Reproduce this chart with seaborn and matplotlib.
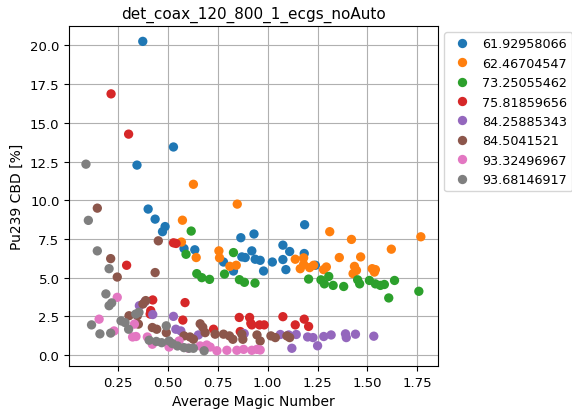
import pandas as pd
import seaborn as sns
import matplotlib
matplotlib.use("Agg")
import matplotlib.pyplot as plt

# legend labels (hue groups)
labels = ["61.92958066", "62.46704547", "73.25055462", "75.81859656",
          "84.25885343", "84.5041521", "93.32496967", "93.68146917"]

# (average magic number, Pu239 CBD [%]) per group
g0 = [(0.373, 20.26), (0.527, 13.44), (0.344, 12.27), (0.400, 9.43), (0.435, 8.78),
      (0.485, 8.30), (0.472, 7.97), (0.580, 6.88), (0.634, 6.80), (0.778, 6.01),
      (0.828, 5.43), (0.865, 7.58), (0.931, 7.82), (0.920, 6.73), (0.870, 6.34),
      (0.887, 6.30), (0.937, 6.19), (0.962, 6.12), (0.979, 5.43), (1.023, 6.01),
      (1.076, 7.10), (1.110, 6.69), (1.076, 6.17), (1.091, 5.52), (1.183, 6.56),
      (1.185, 8.42), (1.239, 5.80)]
g1 = [(0.627, 11.03), (0.847, 9.75), (0.572, 8.71), (0.567, 7.30), (0.641, 6.30),
      (0.755, 6.73), (0.758, 6.28), (0.810, 5.73), (0.842, 5.80), (1.138, 6.19),
      (1.180, 6.28), (1.180, 5.86), (1.163, 5.58), (1.210, 5.65), (1.230, 5.80),
      (1.294, 5.69), (1.280, 5.52), (1.311, 7.97), (1.420, 7.47), (1.620, 6.84),
      (1.768, 7.64), (1.359, 6.30), (1.466, 6.34), (1.435, 5.73), (1.445, 5.47),
      (1.428, 5.26), (1.524, 5.58), (1.540, 5.52), (1.535, 5.36)]
g2 = [(0.616, 8.01), (0.590, 6.51), (0.644, 5.26), (0.669, 5.00), (0.708, 4.89),
      (0.783, 5.23), (0.828, 6.62), (0.858, 4.87), (0.883, 4.70), (0.936, 4.65),
      (1.205, 4.91), (1.267, 4.86), (1.284, 4.60), (1.306, 5.08), (1.328, 4.50),
      (1.381, 4.43), (1.451, 4.86), (1.461, 4.60), (1.510, 4.82), (1.540, 4.60),
      (1.565, 4.50), (1.585, 4.56), (1.636, 4.82), (1.607, 3.69), (1.758, 4.12)]
g3 = [(0.214, 16.87), (0.302, 14.27), (0.292, 5.80), (0.527, 7.25), (0.540, 7.21),
      (0.423, 3.56), (0.413, 2.87), (0.410, 2.65), (0.585, 3.39), (0.574, 2.26),
      (0.728, 1.67), (0.857, 2.43), (0.862, 1.52), (0.909, 2.43), (0.915, 2.05),
      (0.920, 1.95), (0.959, 1.95), (0.982, 1.95), (1.076, 2.48), (1.138, 1.95),
      (1.183, 2.32), (1.205, 1.85)]
g4 = [(0.356, 3.19), (0.384, 3.45), (0.423, 2.62), (0.527, 2.50), (0.539, 1.67),
      (0.564, 1.56), (0.652, 1.30), (0.882, 1.39), (1.063, 1.33), (1.105, 1.30),
      (1.143, 1.33), (1.200, 1.17), (1.227, 1.13), (1.121, 0.44), (1.250, 0.60),
      (1.281, 1.20), (1.318, 1.30), (1.390, 1.37), (1.394, 1.13), (1.440, 1.35),
      (1.532, 1.22)]
g5 = [(0.145, 9.49), (0.451, 7.38), (0.212, 6.23), (0.245, 5.04), (0.435, 5.33),
      (0.388, 3.52), (0.374, 3.30), (0.304, 2.54), (0.346, 2.54), (0.351, 2.00),
      (0.421, 1.78), (0.443, 1.67), (0.491, 1.45), (0.580, 1.24), (0.610, 1.17),
      (0.627, 1.02), (0.661, 2.02), (0.674, 1.80), (0.686, 1.45), (0.736, 1.35),
      (0.778, 1.35), (0.808, 1.24), (0.825, 1.02), (0.870, 1.35), (0.875, 1.02),
      (0.946, 1.30), (0.962, 0.91), (1.016, 1.24), (1.038, 1.13), (1.096, 1.24),
      (1.110, 1.13)]
g6 = [(0.245, 3.73), (0.154, 2.32), (0.331, 2.00), (0.229, 1.56), (0.322, 1.17),
      (0.339, 1.20), (0.396, 1.17), (0.421, 0.70), (0.505, 0.52), (0.555, 0.91),
      (0.600, 0.45), (0.661, 0.59), (0.694, 0.65), (0.677, 0.48), (0.711, 0.52),
      (0.745, 0.28), (0.795, 0.31), (0.845, 0.31), (0.879, 0.37), (0.920, 0.31),
      (0.946, 0.37), (0.962, 0.33)]
g7 = [(0.088, 12.33), (0.100, 8.70), (0.145, 6.73), (0.204, 5.58), (0.188, 3.95),
      (0.217, 3.37), (0.204, 3.19), (0.116, 1.95), (0.158, 1.37), (0.212, 1.42),
      (0.264, 2.21), (0.284, 2.10), (0.302, 1.67), (0.354, 2.76), (0.338, 2.65),
      (0.405, 0.96), (0.441, 0.88), (0.468, 0.80), (0.491, 1.89), (0.505, 0.91),
      (0.522, 0.74), (0.547, 0.59), (0.580, 0.48), (0.605, 0.44), (0.627, 0.44),
      (0.681, 0.28)]

groups = [g0, g1, g2, g3, g4, g5, g6, g7]
rows = []
for lab, pts in zip(labels, groups):
    for x, y in pts:
        rows.append({"magic": x, "cbd": y, "group": lab})
df = pd.DataFrame(rows)

fig, ax = plt.subplots(figsize=(5.72, 4.14), dpi=100, facecolor="w")
fig.subplots_adjust(left=0.121, right=0.765, bottom=0.113, top=0.935)

sns.scatterplot(data=df, x="magic", y="cbd", hue="group", hue_order=labels,
                palette="tab10", s=45, linewidth=0, ax=ax, zorder=3)

ax.grid(True, color="#b0b0b0", linewidth=0.8, zorder=0)
ax.set_axisbelow(True)
ax.tick_params(labelsize=9.5)
ax.set_title("det_coax_120_800_1_ecgs_noAuto", fontsize=11)
ax.set_xlabel("Average Magic Number")
ax.set_ylabel("Pu239 CBD [%]")
ax.legend(loc="upper left", bbox_to_anchor=(1.0, 1.0), fontsize=9.2,
          handletextpad=0.6)

fig.savefig("out.png", dpi=100)
